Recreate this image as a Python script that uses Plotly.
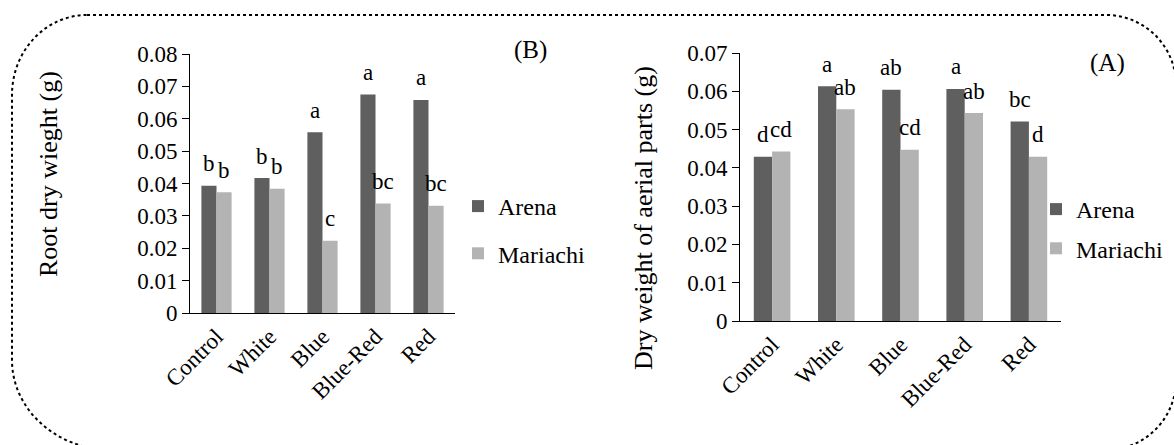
import plotly.graph_objects as go

# ---------------- data ----------------
categories = ["Control", "White", "Blue", "Blue-Red", "Red"]

root_arena = [0.0393, 0.0417, 0.0558, 0.0675, 0.0658]
root_mariachi = [0.0373, 0.0384, 0.0223, 0.0338, 0.0331]
root_letters_arena = ["b", "b", "a", "a", "a"]
root_letters_mariachi = ["b", "b", "c", "bc", "bc"]

aerial_arena = [0.0429, 0.0613, 0.0604, 0.0606, 0.0521]
aerial_mariachi = [0.0443, 0.0553, 0.0447, 0.0543, 0.0429]
aerial_letters_arena = ["d", "a", "ab", "a", "bc"]
aerial_letters_mariachi = ["cd", "ab", "cd", "ab", "d"]

series_names = ["Arena", "Mariachi"]
left_ticks = [0, 0.01, 0.02, 0.03, 0.04, 0.05, 0.06, 0.07, 0.08]
right_ticks = [0, 0.01, 0.02, 0.03, 0.04, 0.05, 0.06, 0.07]

# ---------------- style ----------------
W, H = 1174, 445
FONT = "Liberation Serif"
DARK = "#5f5f5f"
LIGHT = "#b3b3b3"
BARGAP = 0.43


def px_x(x):
    return x / W


def px_y(y):
    return 1 - y / H


fig = go.Figure()

# left chart (B)
fig.add_trace(go.Bar(x=categories, y=root_arena, name=series_names[0], marker_color=DARK,
                     marker_line_width=0, xaxis="x", yaxis="y", legend="legend", legendgroup="la"))
fig.add_trace(go.Bar(x=categories, y=root_mariachi, name=series_names[1], marker_color=LIGHT,
                     marker_line_width=0, xaxis="x", yaxis="y", legend="legend", legendgroup="lm"))
# right chart (A)
fig.add_trace(go.Bar(x=categories, y=aerial_arena, name=series_names[0], marker_color=DARK,
                     marker_line_width=0, xaxis="x2", yaxis="y2", legend="legend2", legendgroup="ra"))
fig.add_trace(go.Bar(x=categories, y=aerial_mariachi, name=series_names[1], marker_color=LIGHT,
                     marker_line_width=0, xaxis="x2", yaxis="y2", legend="legend2", legendgroup="rm"))

axis_common = dict(showline=True, linecolor="black", linewidth=1, showgrid=False,
                   zeroline=False, automargin=False,
                   tickfont=dict(family=FONT, size=23, color="black"))

fig.update_layout(
    template="none",
    width=W, height=H,
    margin=dict(l=0, r=0, t=0, b=0, pad=0),
    paper_bgcolor="white", plot_bgcolor="white",
    barmode="group", bargap=BARGAP, bargroupgap=0,
    font=dict(family=FONT, color="black", size=23),
    showlegend=True,
    xaxis=dict(domain=[px_x(190), px_x(455)], anchor="y", ticks="", tickangle=-45,
               **axis_common),
    yaxis=dict(domain=[px_y(313), px_y(54)], anchor="x", range=[0, 0.08],
               tickvals=left_ticks, ticks="outside", ticklen=7, tickcolor="black",
               **axis_common),
    xaxis2=dict(domain=[px_x(740), px_x(1061)], anchor="y2", ticks="", tickangle=-45,
                **axis_common),
    yaxis2=dict(domain=[px_y(321), px_y(53)], anchor="x2", range=[0, 0.07],
                tickvals=right_ticks, ticks="outside", ticklen=7, tickcolor="black",
                **axis_common),
    legend=dict(x=px_x(458), y=px_y(184), xanchor="left", yanchor="top",
                font=dict(family=FONT, size=24, color="black"), borderwidth=0,
                traceorder="grouped", tracegroupgap=13, bgcolor="rgba(0,0,0,0)"),
    legend2=dict(x=px_x(1036), y=px_y(187), xanchor="left", yanchor="top",
                 font=dict(family=FONT, size=24, color="black"), borderwidth=0,
                 traceorder="grouped", tracegroupgap=5, bgcolor="rgba(0,0,0,0)"),
)

# significance letters above bars
half = (1 - BARGAP) / 4
annotations = []
for xref, yref, vals, letters, off in [
    ("x", "y", root_arena, root_letters_arena, -half),
    ("x", "y", root_mariachi, root_letters_mariachi, half),
    ("x2", "y2", aerial_arena, aerial_letters_arena, -half),
    ("x2", "y2", aerial_mariachi, aerial_letters_mariachi, half),
]:
    for i, (v, t) in enumerate(zip(vals, letters)):
        annotations.append(dict(x=i + off, y=v, xref=xref, yref=yref, text=t,
                                showarrow=False, xanchor="center", yanchor="middle", yshift=22,
                                font=dict(family=FONT, size=23, color="black")))

# axis titles and panel labels
label_common = dict(xref="paper", yref="paper", showarrow=False,
                    xanchor="center", yanchor="middle")
annotations.append(dict(x=px_x(48), y=px_y(174), text="Root dry wieght (g)", textangle=-90,
                        font=dict(family=FONT, size=26, color="black"), **label_common))
annotations.append(dict(x=px_x(643), y=px_y(218), text="Dry weight of aerial parts (g)",
                        textangle=-90, font=dict(family=FONT, size=26, color="black"),
                        **label_common))
annotations.append(dict(x=px_x(530), y=px_y(50), text="(B)",
                        font=dict(family=FONT, size=25, color="black"), **label_common))
annotations.append(dict(x=px_x(1107), y=px_y(63), text="(A)",
                        font=dict(family=FONT, size=25, color="black"), **label_common))
fig.update_layout(annotations=annotations)

# dotted rounded frame
K = 0.5523
x0, x1, y0, y1 = 12, 1176, 15, 450
tl = (75, 80)
tr = (70, 70)
br = (70, 70)
bl = (100, 90)


def P(x, y):
    return f"{px_x(x):.5f},{px_y(y):.5f}"


path = (
    f"M{P(x0 + tl[0], y0)} L{P(x1 - tr[0], y0)} "
    f"C{P(x1 - tr[0] + K * tr[0], y0)} {P(x1, y0 + tr[1] - K * tr[1])} {P(x1, y0 + tr[1])} "
    f"L{P(x1, y1 - br[1])} "
    f"C{P(x1, y1 - br[1] + K * br[1])} {P(x1 - br[0] + K * br[0], y1)} {P(x1 - br[0], y1)} "
    f"L{P(x0 + bl[0], y1)} "
    f"C{P(x0 + bl[0] - K * bl[0], y1)} {P(x0, y1 - bl[1] + K * bl[1])} {P(x0, y1 - bl[1])} "
    f"L{P(x0, y0 + tl[1])} "
    f"C{P(x0, y0 + tl[1] - K * tl[1])} {P(x0 + tl[0] - K * tl[0], y0)} {P(x0 + tl[0], y0)} Z"
)
fig.add_shape(type="path", path=path, xref="paper", yref="paper",
              line=dict(color="black", width=2, dash="dot"), layer="above")

fig.write_html("out.html")
